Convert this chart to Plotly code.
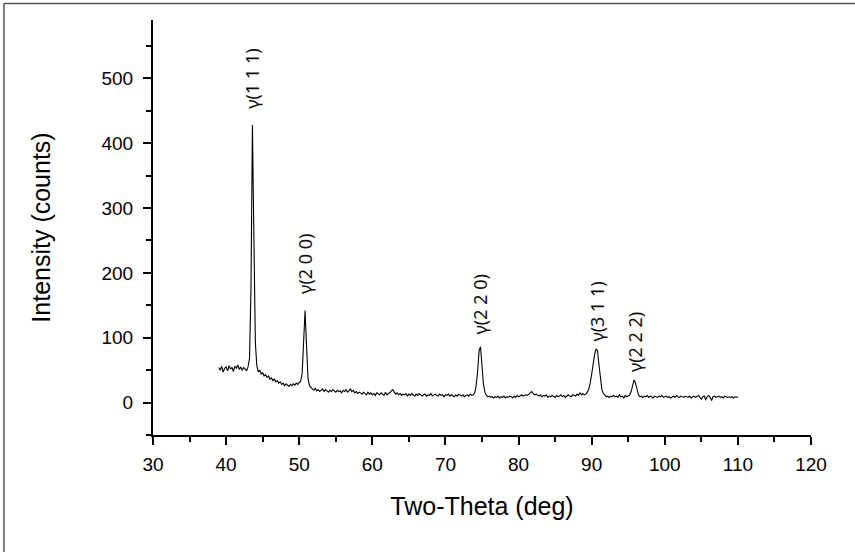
import plotly.graph_objects as go

# XRD scan: start angle, step, and counts
two_theta_start = 39.0
two_theta_step = 0.2
intensity = [
    54, 50, 56, 47, 53, 55, 49, 57, 52, 54,   # 39.0
    48, 56, 53, 58, 51, 55, 50, 54, 52, 49,   # 41.0
    55, 68, 175, 428, 255, 92, 57, 47, 50, 44,  # 43.0
    46, 41, 43, 39, 41, 36, 38, 34, 36, 32,   # 45.0
    34, 30, 32, 28, 30, 26, 29, 27, 25, 28,   # 47.0
    26, 29, 27, 30, 28, 31, 33, 45, 95, 142,  # 49.0
    88, 38, 26, 23, 21, 19, 22, 18, 20, 17,   # 51.0
    19, 21, 17, 20, 18, 16, 19, 17, 20, 18,   # 53.0
    16, 19, 17, 18, 15, 19, 17, 20, 16, 18,   # 55.0
    21, 17, 19, 15, 17, 14, 16, 15, 13, 16,   # 57.0
    14, 12, 16, 13, 15, 12, 14, 11, 15, 13,   # 59.0
    12, 15, 13, 11, 16, 12, 14, 15, 18, 20,   # 61.0
    16, 13, 15, 12, 14, 11, 13, 12, 14, 10,   # 63.0
    13, 11, 14, 12, 10, 13, 11, 14, 12, 10,   # 65.0
    12, 13, 10, 12, 11, 14, 10, 12, 13, 11,   # 67.0
    10, 13, 11, 12, 9, 12, 11, 13, 10, 12,    # 69.0
    11, 9, 12, 10, 13, 11, 10, 12, 9, 11,     # 71.0
    12, 10, 13, 11, 12, 15, 26, 48, 80, 86,   # 73.0
    55, 28, 16, 11, 9, 10, 8, 9, 7, 9,        # 75.0
    8, 10, 7, 9, 8, 10, 7, 9, 8, 10,          # 77.0
    9, 7, 10, 8, 11, 9, 10, 12, 10, 11,       # 79.0
    12, 11, 13, 15, 17, 14, 12, 13, 11, 10,   # 81.0
    12, 9, 11, 10, 12, 8, 10, 9, 11, 10,      # 83.0
    8, 11, 9, 10, 12, 9, 11, 8, 10, 12,       # 85.0
    10, 9, 12, 11, 10, 13, 11, 15, 12, 14,    # 87.0
    12, 13, 16, 21, 30, 44, 60, 74, 83, 80,   # 89.0
    58, 34, 20, 14, 11, 9, 10, 8, 10, 9,      # 91.0
    11, 9, 10, 8, 12, 9, 10, 7, 11, 9,        # 93.0
    10, 12, 17, 27, 35, 30, 19, 12, 9, 10,    # 95.0
    8, 10, 9, 11, 8, 10, 9, 7, 10, 9,         # 97.0
    8, 10, 9, 11, 8, 9, 10, 8, 9, 7,          # 99.0
    9, 10, 8, 11, 9, 8, 10, 9, 8, 10,         # 101.0
    9, 8, 10, 7, 9, 10, 8, 9, 11, 8,          # 103.0
    5, 9, 10, 4, 9, 11, 8, 3, 9, 10,          # 105.0
    8, 9, 10, 8, 9, 7, 10, 9, 8, 9,           # 107.0
    8, 9, 7, 9, 8, 8,                         # 109.0 - 110.0
]
two_theta = [round(two_theta_start + two_theta_step * i, 2) for i in range(len(intensity))]

# Peak labels
peak_labels = ["γ(1 1 1)", "γ(2 0 0)", "γ(2 2 0)", "γ(3 1 1)", "γ(2 2 2)"]
peak_label_x = [43.5, 50.8, 74.7, 90.7, 95.9]
peak_label_y = [499, 214, 151, 140, 93]

x_ticks = [30, 40, 50, 60, 70, 80, 90, 100, 110, 120]
y_ticks = [0, 100, 200, 300, 400, 500]

fig = go.Figure()
fig.add_trace(go.Scatter(
    x=two_theta, y=intensity, mode="lines",
    line=dict(color="black", width=1.1), showlegend=False, hoverinfo="x+y",
))

for txt, px, py in zip(peak_labels, peak_label_x, peak_label_y):
    fig.add_annotation(
        x=px, y=py, text=txt, textangle=-90, showarrow=False,
        xanchor="center", yanchor="middle",
        font=dict(family="Noto Sans", size=18, color="#111111"),
    )

axis_font = dict(family="Liberation Sans, Arial", size=19, color="black")
title_font = dict(family="Liberation Sans, Arial", size=25, color="black")
fig.update_xaxes(
    range=[30, 120], tickvals=x_ticks, showline=True, linecolor="black", linewidth=2,
    ticks="outside", ticklen=8, tickwidth=2, tickcolor="black", ticklabelstandoff=3,
    minor=dict(dtick=5, tick0=30, ticks="outside", ticklen=5, tickwidth=2, tickcolor="black"),
    showgrid=False, zeroline=False, tickfont=axis_font,
    title=dict(text="Two-Theta (deg)", font=title_font, standoff=24),
)
fig.update_yaxes(
    range=[-50, 590], tickvals=y_ticks, showline=True, linecolor="black", linewidth=2,
    ticks="outside", ticklen=8, tickwidth=2, tickcolor="black", ticklabelstandoff=6,
    minor=dict(dtick=50, tick0=0, ticks="outside", ticklen=5, tickwidth=2, tickcolor="black"),
    showgrid=False, zeroline=False, tickfont=axis_font,
    title=dict(text="Intensity (counts)", font=title_font, standoff=44),
)

# outer frame (top and left edges visible in the reference)
fig.add_shape(type="line", xref="paper", yref="paper", x0=-0.2265, x1=-0.2265, y0=-0.31, y1=1.0395,
              line=dict(color="#555555", width=1.5))
fig.add_shape(type="line", xref="paper", yref="paper", x0=-0.2265, x1=1.08, y0=1.0395, y1=1.0395,
              line=dict(color="#555555", width=1.5))

fig.update_layout(
    width=855, height=552,
    margin=dict(l=153, r=44, t=20, b=117, autoexpand=False),
    plot_bgcolor="white", paper_bgcolor="white",
)

fig.write_html("out.html", config={"displayModeBar": False},
               post_script="document.body.style.margin='0';document.body.style.overflow='hidden';")
